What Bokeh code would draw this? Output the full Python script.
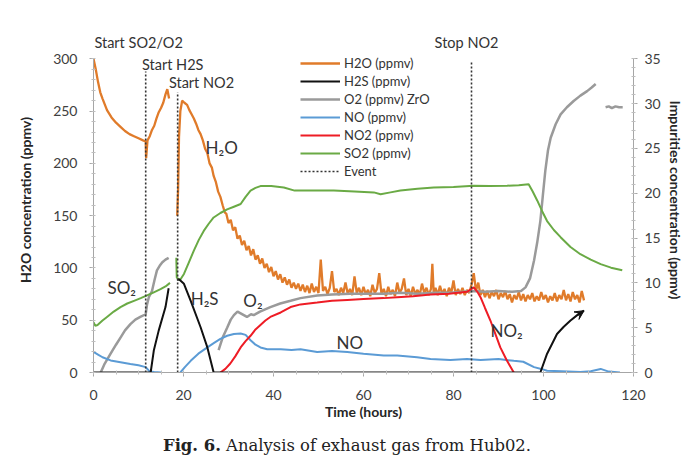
import numpy as np
from bokeh.plotting import figure
from bokeh.layouts import column
from bokeh.models import (Range1d, LinearAxis, SingleIntervalTicker, Legend, LegendItem,
                          Label, Arrow, VeeHead, Div)
from bokeh.embed import file_html
from bokeh.resources import INLINE

nan = np.nan

# ---------------- data ----------------
# H2O (left axis, ppmv)
h2o_t = [0, 0.5, 1.0, 1.5, 2, 3, 4, 5, 6, 7, 8, 9, 10, 11, 11.6, 11.7, 12, 12.5, 13, 13.5, 14, 14.5,
         15, 15.5, 16, 16.4, 16.8, nan,
         18.6, 18.8, 19.0, 19.3, 19.7, 20.2, 20.8, 21.3, 21.8, 22.3, 22.8, 23.3, 23.8, 24.3, 24.8,
         25.3, 25.8, 26.3, 26.7, 27.2, 27.7, 28.2, 28.7, 29.2,
         29.5, 30.0, 30.5, 31.0, 31.5, 32.0, 32.5, 33.0, 33.5, 34.0, 34.5, 35.0, 35.5, 36.0, 36.5,
         37.0, 37.5, 38.0, 38.5, 39.0, 39.5, 40.0, 40.5, 41.0, 41.5, 42.0, 42.5, 43.0, 43.5, 44.0,
         44.5, 45.0, 45.5, 46.0, 46.5, 47.0, 47.5, 48.0, 48.5, 49.0, 49.5, 50.0, 50.5, 51.0, 51.5,
         52.0, 52.5, 53.0, 53.5, 54.0, 54.5, 55.0, 55.5, 56.0, 56.5, 57.0, 57.5, 58.0, 58.5, 59.0,
         59.5, 60.0, 60.5, 61.0, 61.5, 62.0, 62.5, 63.0, 63.5, 64.0, 64.5, 65.0, 65.5, 66.0, 66.5,
         67.0, 67.5, 68.0, 68.5, 69.0, 69.5, 70.0, 70.5, 71.0, 71.5, 72.0, 72.5, 73.0, 73.5, 74.0,
         74.5, 75.0, 75.3, 75.6, 76.0, 76.5, 77.0, 77.5, 78.0, 78.5, 79.0, 79.5, 80.0, 80.5, 81.0,
         81.5, 82.0, 82.5, 83.0, 83.5, 84.0, 84.5, 85.0, 85.5, 86.0, 86.5, 87.0, 87.5, 88.0, 88.5,
         89.0, 89.5, 90.0, 90.5, 91.0, 91.5, 92.0, 92.5, 93.0, 93.5, 94.0, 94.5, 95.0, 95.5, 96.0,
         96.5, 97.0, 97.5, 98.0, 98.5, 99.0, 99.5, 100.0, 100.5, 101.0, 101.5, 102.0, 102.5, 103.0,
         103.5, 104.0, 104.5, 105.0, 105.5, 106.0, 106.5, 107.0, 107.5, 108.0, 108.5, 109.0]
h2o_v = [300, 290, 278, 268, 262, 251, 244, 239, 235, 231, 228, 226, 224, 222, 221, 205, 222, 226,
         232, 236, 243, 249, 253, 258, 266, 271, 262, nan,
         150, 175, 225, 250, 260, 258, 256, 251, 247, 243, 238, 232, 228, 222, 214,
         210, 200, 196, 188, 182, 173, 168, 160, 153,
         152, 143, 146, 136, 139, 128, 131, 122, 126, 117, 121, 112, 118, 108, 112,
         104, 109, 100, 104, 96, 101, 92, 97, 89, 94, 86, 91, 84, 89, 81,
         86, 80, 85, 78, 84, 77, 83, 76, 85, 77, 82, 76, 108, 78, 82,
         75, 81, 97, 77, 80, 74, 81, 76, 86, 75, 80, 74, 92, 76, 81,
         74, 82, 75, 79, 73, 84, 76, 80, 95, 75, 80, 73, 82, 75, 79,
         73, 86, 76, 80, 90, 74, 80, 73, 82, 75, 79, 74, 85, 76, 81,
         74, 80, 104, 76, 81, 74, 83, 75, 80, 73, 81, 76, 88, 74, 80,
         75, 81, 74, 79, 76, 84, 95, 78, 86, 74, 79, 72, 78, 71, 77,
         73, 79, 70, 76, 72, 78, 70, 75, 67, 74, 70, 77, 69, 75, 68,
         74, 70, 76, 68, 73, 69, 77, 70, 74, 67, 73, 69, 76, 68,
         74, 70, 79, 69, 75, 68, 77, 70, 74, 67, 78, 69]

# Impurities (right axis, ppmv)
h2s_t = [0, 12.7, 13.4, 14.5, 16, 16.7, nan, 18.6, 19.0, 20.1, 21.6, 23.8, 25.3, 26.7, 99.3,
         100.8, 102, 103, 104.5, 106, 107.5, 109]
h2s_v = [0, 0, 2.45, 4.7, 7.3, 9.4, nan, 10.3, 10.4, 9.9, 8.0, 5.05, 2.8, 0, 0,
         2.1, 3.3, 4.3, 5.1, 5.8, 6.4, 6.9]

o2_t = [1.6, 2.5, 3.8, 5, 6, 7, 8.2, 9.3, 10.4, 11.6, 11.9, 12.3, 13, 13.6, 14.1, 14.7, 15.3, 16,
        16.7, nan,
        27.8, 28.7, 29.7, 30.5, 31.2, 32.0, 32.7, 33.4, 34.1, 35.0, 35.6, 37, 39.3, 41.5, 43.8, 46,
        49.7, 53, 57, 61, 64.5, 68, 72, 76, 79.3, 82, 84.5, 87, 90, 93, 95, 96, 97, 97.9, 98.6,
        99.3, 99.9, 100.4, 101, 101.6, 102.7, 103.8, 105.2, 106.7, 108.2, 109.7, 110.7, 111.6, nan,
        113.8, 114.5, 115.2, 116, 116.8, 117.6]
o2_v = [0, 1.0, 2.1, 3.1, 3.9, 4.7, 5.4, 5.9, 6.2, 6.5, 7.6, 8.4, 9.1, 10.4, 11.4, 11.9, 12.3, 12.6,
        12.8, nan,
        2.5, 3.9, 5.0, 5.9, 6.4, 6.8, 6.6, 6.4, 6.2, 6.5, 6.4, 6.8, 7.3, 7.7, 8.0, 8.3,
        8.6, 8.7, 8.8, 8.8, 8.8, 8.9, 8.8, 8.9, 8.9, 9.0, 9.1, 9.0, 9.1, 9.0, 9.1, 9.5, 10.5, 12.5,
        14.5, 16.9, 20.0, 22.5, 24.8, 26.2, 27.7, 28.8, 29.6, 30.3, 30.9, 31.4, 31.8, 32.2, nan,
        29.6, 29.7, 29.5, 29.7, 29.6, 29.6]

no_t = [0, 1, 2, 3.8, 6, 8.2, 10, 11.6, 12.5, 13.5, 15, nan,
        19.3, 20.3, 21.6, 23.3, 25.3, 26.8, 28.2, 29.7, 31.2, 32.7, 33.8, 34.9, 36, 37.1, 38.6,
        41.6, 44, 46, 49.7, 53, 56.4, 60, 64.5, 67.5, 71.9, 74.9, 79.3, 83, 86, 90, 93.4, 95.5,
        97.9, 99.5, 100.8, 104, 108.2, 110.5, 112.7, 114.5, 117]
no_v = [2.3, 2.0, 1.7, 1.35, 1.15, 0.95, 0.8, 0.6, 0.1, 0.05, 0, nan,
        0, 0.6, 1.3, 2.1, 2.8, 3.3, 3.75, 4.1, 4.3, 4.35, 4.2, 3.6, 3.1, 2.8, 2.6,
        2.6, 2.5, 2.6, 2.3, 2.4, 2.3, 2.1, 1.9, 1.9, 1.7, 1.5, 1.4, 1.5, 1.4, 1.5, 1.3, 1.2,
        0.6, 0.4, 0.2, 0.15, 0.05, 0.15, 0.4, 0.1, 0.0]

no2_t = [28.2, 29.3, 30.4, 31.5, 32.7, 33.8, 34.9, 36, 37.1, 38.2, 39.3, 41.6, 43.8, 46, 49.7,
         53, 56.4, 60, 64.5, 67.5, 71, 74.9, 79, 83, 84.5, 85.3, 86, 87, 88.2, 89.3, 90.4, 91.8, 93.4]
no2_v = [0, 0.4, 1.0, 1.8, 2.8, 3.5, 4.1, 4.8, 5.3, 5.8, 6.2, 6.7, 7.3, 7.6, 7.8,
         8.0, 8.1, 8.2, 8.3, 8.4, 8.5, 8.7, 8.8, 9.0, 9.5, 9.0, 8.4, 7.2, 5.8, 4.3, 2.8, 1.4, 0]

so2_t = [0, 0.4, 0.9, 2, 3, 4.5, 6, 7.5, 9, 10.5, 11.9, 13.4, 14.9, 16, 17, nan,
         18.4, 18.5, 19.2, 20.1, 21.2, 22.3, 23.4, 24.5, 25.6, 26.7, 28.2, 29.7, 31.2, 32.7, 33.8,
         34.9, 36, 37.1, 39.5, 42.3, 44.7, 48, 53.4, 58, 62.3, 63.8, 66, 68.2, 72, 75.6, 80, 84.5,
         88, 91.9, 94.5, 96.7, 97.6, 98.6, 99.7, 100.8, 102.3, 103.8, 106, 108.2, 110.5, 112.7,
         115, 117.5]
so2_v = [5.6, 5.2, 5.3, 5.8, 6.2, 6.8, 7.3, 7.7, 8.0, 8.3, 8.6, 8.95, 9.3, 9.6, 10.0, nan,
         12.8, 10.6, 10.3, 11.0, 12.3, 13.6, 14.8, 15.8, 16.6, 17.3, 17.8, 18.2, 18.5, 18.8, 19.6,
         20.3, 20.6, 20.8, 20.8, 20.65, 20.3, 20.3, 20.3, 20.2, 20.1, 19.9, 20.1, 20.3, 20.5, 20.65,
         20.7, 20.85, 20.8, 20.85, 20.9, 21.0, 20.2, 19.2, 18.0, 16.9, 15.9, 15.1, 14.0, 13.2,
         12.6, 12.1, 11.7, 11.4]

event_t = [11.6, 18.7, 84.0]
event_top = [288, 268, 298]

event_labels = ["Start SO2/O2", "Start H2S", "Start NO2", "Stop NO2"]
event_label_x = [0.2, 17.6, 24.0, 82.9]
event_label_align = ["left", "center", "center", "center"]
event_label_y = [316, 295, 277, 316]

species_labels = ["H₂O", "SO₂", "H₂S", "O₂", "NO", "NO₂"]
species_x = [24.9, 3.1, 21.6, 33.3, 54.0, 88.2]
species_y = [215, 81, 70.7, 68.8, 28.7, 40]

caption_bold = "Fig. 6."
caption_rest = "Analysis of exhaust gas from Hub02."

FONT = "Lato"
TXT = "#404040"

LEFT_MAX, RIGHT_MAX, TOP_PAD = 300, 35, 330   # room above 300 for the event captions

p = figure(width=687, height=422, output_backend="svg", toolbar_location=None,
           x_range=Range1d(0, 120), y_range=Range1d(0, TOP_PAD),
           min_border_left=93, min_border_right=54, min_border_top=27, min_border_bottom=50)
p.extra_y_ranges = {"imp": Range1d(0, RIGHT_MAX * TOP_PAD / LEFT_MAX)}
p.background_fill_color = "white"
p.border_fill_color = "white"
p.outline_line_color = None
p.xgrid.visible = False
p.ygrid.visible = False

def style_axis(ax):
    ax.axis_line_color = "#a6a6a6"
    ax.major_tick_line_color = "#a6a6a6"
    ax.minor_tick_line_color = "#bfbfbf"
    ax.major_tick_in = 1
    ax.major_tick_out = 4
    ax.minor_tick_in = 2
    ax.minor_tick_out = 2
    ax.major_label_text_font = FONT
    ax.major_label_text_font_size = "14px"
    ax.major_label_text_color = TXT
    ax.axis_label_text_font = FONT
    ax.axis_label_text_font_size = "14px"
    ax.axis_label_text_font_style = "bold"
    ax.axis_label_text_color = "#262626"

xa = p.xaxis[0]
xa.ticker = SingleIntervalTicker(interval=20, num_minor_ticks=4)
xa.axis_label = "Time (hours)"
style_axis(xa)
xa.major_label_standoff = 13
xa.axis_label_standoff = 0

ya = p.yaxis[0]
ya.ticker = SingleIntervalTicker(interval=50, num_minor_ticks=5)
ya.bounds = (0, LEFT_MAX)
ya.axis_label = "H2O concentration (ppmv)"
style_axis(ya)
ya.major_label_standoff = 12
ya.axis_label_standoff = 16

ra = LinearAxis(y_range_name="imp", ticker=SingleIntervalTicker(interval=5, num_minor_ticks=5),
                bounds=(0, RIGHT_MAX), axis_label="Impurities concentration (ppmv)")
style_axis(ra)
ra.major_label_standoff = 7
ra.axis_label_standoff = 3
p.add_layout(ra, "right")

r_h2o = p.line(h2o_t, h2o_v, line_color="#e07b2a", line_width=2.3)
r_o2 = p.line(o2_t, o2_v, line_color="#9a9a9a", line_width=2.5, y_range_name="imp")
r_no = p.line(no_t, no_v, line_color="#5b9bd5", line_width=2, y_range_name="imp")
r_no2 = p.line(no2_t, no2_v, line_color="#ee1c25", line_width=2, y_range_name="imp")
r_so2 = p.line(so2_t, so2_v, line_color="#6aaa45", line_width=2, y_range_name="imp")
r_h2s = p.line(h2s_t, h2s_v, line_color="#111111", line_width=2, y_range_name="imp")
r_ev = p.segment(x0=event_t, y0=[0] * len(event_t), x1=event_t, y1=event_top,
                 line_color="#333333", line_width=1.6, line_dash="2 2")

p.add_layout(Arrow(end=VeeHead(size=9, fill_color="#111111", line_color="#111111"),
                   x_start=h2s_t[-2], y_start=h2s_v[-2], x_end=h2s_t[-1], y_end=h2s_v[-1],
                   y_range_name="imp", line_color="#111111", line_width=2))

legend = Legend(items=[
    LegendItem(label="H2O (ppmv)", renderers=[r_h2o]),
    LegendItem(label="H2S (ppmv)", renderers=[r_h2s]),
    LegendItem(label="O2 (ppmv) ZrO", renderers=[r_o2]),
    LegendItem(label="NO (ppmv)", renderers=[r_no]),
    LegendItem(label="NO2 (ppmv)", renderers=[r_no2]),
    LegendItem(label="SO2 (ppmv)", renderers=[r_so2]),
    LegendItem(label="Event", renderers=[r_ev]),
], location=(207, 192))
legend.background_fill_alpha = 0
legend.border_line_color = None
legend.padding = 0
legend.margin = 0
legend.spacing = 0
legend.glyph_width = 40
legend.glyph_height = 18
legend.label_height = 18
legend.label_standoff = 4
legend.label_text_font = FONT
legend.label_text_font_size = "13px"
legend.label_text_color = "#333333"
p.add_layout(legend)

for txt, x, y, al in zip(event_labels, event_label_x, event_label_y, event_label_align):
    p.add_layout(Label(x=x, y=y, text=txt, text_align=al, text_baseline="middle",
                       text_font=FONT, text_font_size="14.5px", text_color="#333333"))

for txt, x, y in zip(species_labels, species_x, species_y):
    p.add_layout(Label(x=x, y=y, text=txt, text_align="left", text_baseline="middle",
                       text_font=FONT, text_font_size="17px", text_color="#333333"))

cap = Div(text=f"<b>{caption_bold}</b> {caption_rest}", width=520, height=22,
          margin=(16, 0, 0, 163),
          styles={"font-family": "'DejaVu Serif', serif", "font-size": "16.4px",
                  "color": "#222222", "line-height": "1", "white-space": "nowrap"})

layout = column(p, cap, spacing=0)
open("out.html", "w").write(file_html(layout, INLINE))
